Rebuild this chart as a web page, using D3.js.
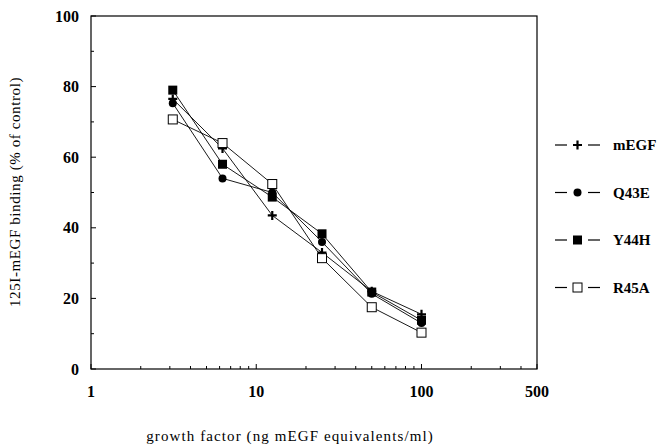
<!DOCTYPE html>
<html>
<head>
<meta charset="utf-8">
<script src="https://cdn.jsdelivr.net/npm/d3@7"></script>
<style>
  body { margin: 0; background: #fff; }
  text { font-family: "Liberation Serif", "DejaVu Serif", serif; }
</style>
</head>
<body>
<svg id="chart" width="666" height="445"></svg>
<script>
// concentrations (ng/ml)
const doses = [3.125, 6.25, 12.5, 25, 50, 100];
const seriesNames = ["mEGF", "Q43E", "Y44H", "R45A"];
const mEGF = [76.5, 62.5, 43.5, 33, 22, 15.5];
const Q43E = [75.3, 54, 50, 36, 21.3, 13];
const Y44H = [79, 58, 48.7, 38.3, 21.8, 13.8];
const R45A = [70.7, 64, 52.4, 31.4, 17.5, 10.3];
const xTickLabels = [1, 10, 100, 500];
const yTickLabels = [0, 20, 40, 60, 80, 100];

const svg = d3.select("#chart");
const margin = { top: 16, right: 129, bottom: 76, left: 91 };
const width = 666 - margin.left - margin.right;
const height = 445 - margin.top - margin.bottom;

const x = d3.scaleLog().domain([1, 500]).range([0, width]);
const y = d3.scaleLinear().domain([0, 100]).range([height, 0]);

const g = svg.append("g").attr("transform", `translate(${margin.left},${margin.top})`);

// frame
g.append("rect")
  .attr("width", width).attr("height", height)
  .attr("fill", "none").attr("stroke", "#000").attr("stroke-width", 1.2);

// x ticks (inside)
const minorX = [];
[1, 10, 100].forEach(d => { for (let k = 1; k < 10; k++) if (d * k <= 500) minorX.push(d * k); });
g.append("g").selectAll("line").data(minorX).join("line")
  .attr("x1", d => x(d)).attr("x2", d => x(d))
  .attr("y1", height).attr("y2", d => xTickLabels.includes(d) ? height - 5 : height - 3)
  .attr("stroke", "#000");
g.append("g").selectAll("text").data(xTickLabels).join("text")
  .attr("x", d => x(d)).attr("y", height + 28)
  .attr("text-anchor", "middle")
  .style("font-size", "16px").style("font-weight", "bold")
  .text(d => d);

// y ticks (inside)
g.append("g").selectAll("line").data(d3.range(0, 101, 10)).join("line")
  .attr("x1", 0).attr("x2", d => d % 20 === 0 ? 5 : 3)
  .attr("y1", d => y(d)).attr("y2", d => y(d))
  .attr("stroke", "#000");
g.append("g").selectAll("text").data(yTickLabels).join("text")
  .attr("x", -12).attr("y", d => y(d)).attr("dy", "0.35em")
  .attr("text-anchor", "end")
  .style("font-size", "16px").style("font-weight", "bold")
  .text(d => d);

// axis titles
svg.append("text")
  .attr("x", 290).attr("y", 441)
  .attr("text-anchor", "middle").style("font-size", "15px")
  .style("letter-spacing", "1.1px")
  .text("growth factor (ng mEGF equivalents/ml)");
svg.append("text")
  .attr("transform", `translate(20,${margin.top + 176}) rotate(-90)`)
  .attr("text-anchor", "middle").style("font-size", "15px")
  .style("letter-spacing", "0.6px")
  .text("125I-mEGF binding (% of control)");

// markers
const drawMarker = (sel, name) => {
  if (name === "mEGF") {
    sel.append("path").attr("d", "M-4.5,0H4.5M0,-4.5V4.5").attr("stroke", "#000").attr("stroke-width", 2.2);
  } else if (name === "Q43E") {
    sel.append("circle").attr("r", 4).attr("fill", "#000");
  } else if (name === "Y44H") {
    sel.append("rect").attr("x", -4.5).attr("y", -4.5).attr("width", 9).attr("height", 9).attr("fill", "#000");
  } else {
    sel.append("rect").attr("x", -4.5).attr("y", -4.5).attr("width", 9).attr("height", 9)
      .attr("fill", "#fff").attr("stroke", "#000").attr("stroke-width", 1);
  }
};

const allSeries = [mEGF, Q43E, Y44H, R45A];
const line = d3.line().x((d, i) => x(doses[i])).y(d => y(d));

allSeries.forEach((vals, si) => {
  g.append("path").datum(vals)
    .attr("fill", "none").attr("stroke", "#000").attr("stroke-width", 0.9)
    .attr("d", line);
});
allSeries.forEach((vals, si) => {
  vals.forEach((v, i) => {
    const m = g.append("g").attr("transform", `translate(${x(doses[i])},${y(v)})`);
    drawMarker(m, seriesNames[si]);
  });
});

// legend
const legend = svg.append("g").attr("transform", "translate(555,145)");
seriesNames.forEach((name, i) => {
  const row = legend.append("g").attr("transform", `translate(0,${i * 47.5})`);
  row.append("line").attr("x1", 0).attr("x2", 12).attr("stroke", "#000").attr("stroke-width", 1.2);
  row.append("line").attr("x1", 33).attr("x2", 45).attr("stroke", "#000").attr("stroke-width", 1.2);
  drawMarker(row.append("g").attr("transform", "translate(22.5,0)"), name);
  row.append("text").attr("x", 58).attr("dy", "0.35em")
    .style("font-size", "15px").style("font-weight", "bold")
    .text(name);
});
</script>
</body>
</html>
